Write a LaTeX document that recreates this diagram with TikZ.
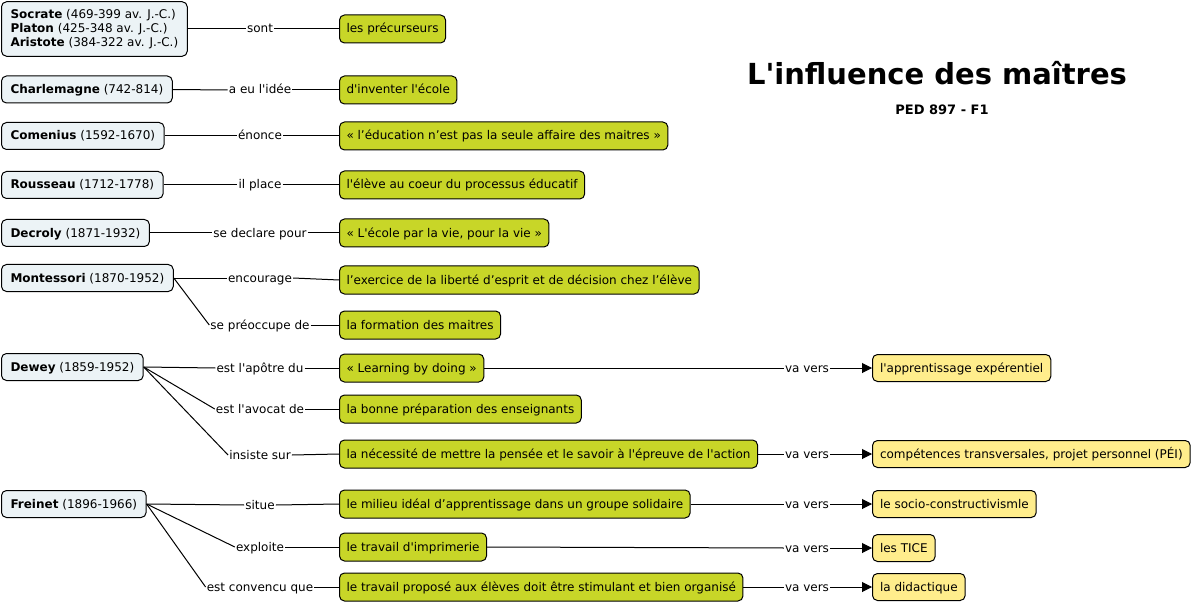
\documentclass[tikz,border=0pt]{standalone}
\usepackage{fontspec}
\setmainfont{DejaVu Sans}[Ligatures=TeXOff]
\usetikzlibrary{arrows.meta, positioning}
\definecolor{persFill}  {RGB}{236,243,246}
\definecolor{ideaGreen} {RGB}{200,214, 40}
\definecolor{goalYellow}{RGB}{255,237,140}

\begin{document}
\begin{tikzpicture}[x=1pt, y=-1pt,
  pers/.style={rectangle, rounded corners=5pt, draw=black, fill=persFill,
    line width=1pt, anchor=west, align=left, inner xsep=9pt,
    minimum height=27pt, font=\fontsize{12}{14}\selectfont},
  one/.style={text height=10pt, text depth=2pt},
  idea/.style={pers, one, fill=ideaGreen, inner xsep=7pt, minimum height=28pt},
  goal/.style={pers, one, fill=goalYellow, inner xsep=7.5pt},
  lbl/.style={one, inner sep=1pt, font=\fontsize{12}{14}\selectfont},
  link/.style={line width=1pt},
  arr/.style={link, -{Triangle[length=10pt, width=10pt]}},
]
\useasboundingbox (0,0) rectangle (1197,604);

%% Title
\node[font=\fontsize{29}{32}\selectfont\bfseries] (T) at (937,73)
  {L'influence des maîtres};
\node[font=\fontsize{13}{15}\selectfont\bfseries] (C) at (942,110)
  {PED 897 - F1};

%% People — left column
\node[pers, inner ysep=7.5pt] (P1) at (1,29)
  {\textbf{Socrate} (469-399 av. J.-C.)\\
   \textbf{Platon} (425-348 av. J.-C.)\\
   \textbf{Aristote} (384-322 av. J.-C.)};
\foreach \n/\y/\who/\dates in {
  2/89.5/Charlemagne/742-814, 3/136/Comenius/1592-1670,
  4/185/Rousseau/1712-1778, 5/233/Decroly/1871-1932,
  6/278/Montessori/1870-1952, 7/367/Dewey/1859-1952,
  8/504/Freinet/1896-1966}{
  \node[pers, one] (P\n) at (1,\y) {\textbf{\who} (\dates)};
}

%% Link labels
\foreach \n/\y/\t in {
  1/29/sont, 2/90/a eu l'idée, 3/136/énonce, 4/185/il place,
  5/233/se declare pour, 6/278/encourage, 7/325/se préoccupe de,
  8/368/est l'apôtre du, 9/409/est l'avocat de, 10/455/insiste sur,
  11/505/situe, 12/547/exploite, 13/587/est convencu que}{
  \node[lbl] (L\n) at (260,\y) {\t};
}

%% Ideas — middle column
\foreach \n/\y/\t in {
  1/29/{les précurseurs},
  2/90/{d'inventer l'école},
  3/136/{« l’éducation n’est pas la seule affaire des maitres »},
  4/185/{l'élève au coeur du processus éducatif},
  5/233/{« L'école par la vie, pour la vie »},
  6/280/{l’exercice de la liberté d’esprit et de décision chez l’élève},
  7/325/{la formation des maitres},
  8/368/{« Learning by doing »},
  9/409/{la bonne préparation des enseignants},
  10/454/{la nécessité de mettre la pensée et le savoir à l'épreuve de l'action},
  11/504/{le milieu idéal d’apprentissage dans un groupe solidaire},
  12/547/{le travail d'imprimerie},
  13/587/{le travail proposé aux élèves doit être stimulant et bien organisé}}{
  \node[idea] (G\n) at (339,\y) {\t};
}

%% Outcomes — right column
\foreach \n/\y/\t in {
  1/368/{l'apprentissage expérentiel},
  2/454/{compétences transversales, projet personnel (PÉI)},
  3/504/{le socio-constructivismle},
  4/548/{les TICE},
  5/587/{la didactique}}{
  \node[goal] (Y\n) at (872,\y) {\t};
  \node[lbl] (V\n) at (807,\y) {va vers};
}

%% Connectors people -> labels -> ideas
\foreach \p/\l in {1/1, 2/2, 3/3, 4/4, 5/5, 6/6, 6/7,
  7/8, 7/9, 7/10, 8/11, 8/12, 8/13}{
  \draw[link] (P\p.east) -- (L\l.west);
  \draw[link] (L\l.east) -- (G\l.west);
}

%% Connectors ideas -> "va vers" -> outcomes
\foreach \g/\v in {8/1, 10/2, 11/3, 12/4, 13/5}{
  \draw[link] (G\g.east) -- (V\v.west);
  \draw[arr] (V\v.east) -- (Y\v.west);
}
\end{tikzpicture}
\end{document}
